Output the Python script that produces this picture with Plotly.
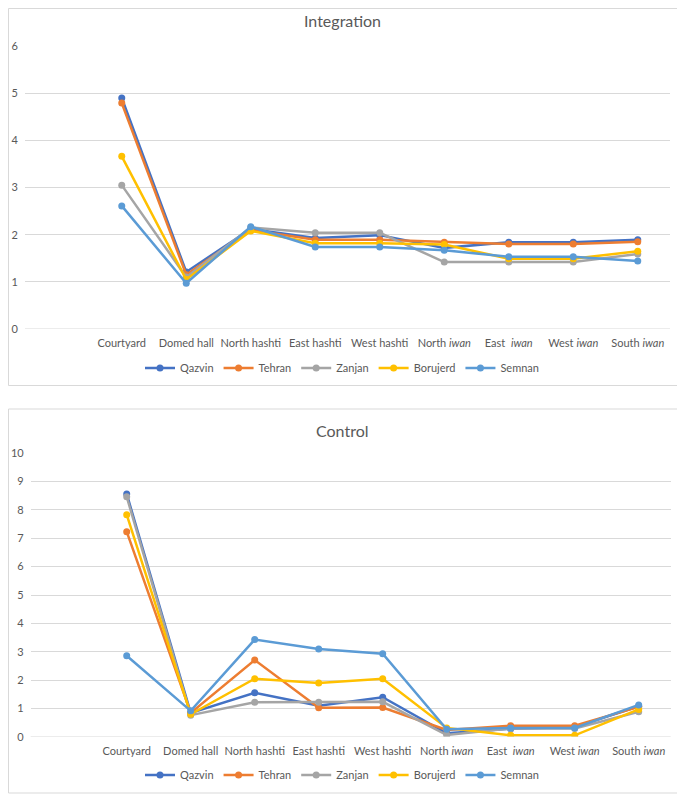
import plotly.graph_objects as go

categories = ["Courtyard", "Domed hall", "North hashti", "East hashti", "West hashti",
              "North <i>iwan</i>", "East  <i>iwan</i>", "West <i>iwan</i>", "South <i>iwan</i>"]
cities = ["Qazvin", "Tehran", "Zanjan", "Borujerd", "Semnan"]

# Integration values
int_qazvin = [4.90, 1.21, 2.12, 1.93, 1.99, 1.72, 1.84, 1.84, 1.89]
int_tehran = [4.79, 1.15, 2.10, 1.89, 1.89, 1.84, 1.80, 1.80, 1.85]
int_zanjan = [3.05, 1.10, 2.15, 2.04, 2.04, 1.42, 1.42, 1.42, 1.59]
int_borujerd = [3.66, 1.05, 2.08, 1.82, 1.82, 1.79, 1.49, 1.49, 1.65]
int_semnan = [2.61, 0.97, 2.17, 1.74, 1.74, 1.67, 1.53, 1.53, 1.44]

# Control values
ctl_qazvin = [8.56, 0.85, 1.56, 1.10, 1.40, 0.13, 0.29, 0.35, 1.08]
ctl_tehran = [7.23, 0.85, 2.71, 1.03, 1.04, 0.25, 0.40, 0.40, 1.06]
ctl_zanjan = [8.46, 0.77, 1.22, 1.22, 1.24, 0.07, 0.30, 0.30, 0.89]
ctl_borujerd = [7.83, 0.80, 2.05, 1.90, 2.05, 0.32, 0.06, 0.06, 0.97]
ctl_semnan = [2.86, 0.92, 3.43, 3.10, 2.93, 0.27, 0.32, 0.32, 1.13]

int_ticks = [0, 1, 2, 3, 4, 5, 6]
ctl_ticks = [0, 1, 2, 3, 4, 5, 6, 7, 8, 9, 10]

colors = ["#4472C4", "#ED7D31", "#A5A5A5", "#FFC000", "#5B9BD5"]
integration = [int_qazvin, int_tehran, int_zanjan, int_borujerd, int_semnan]
control = [ctl_qazvin, ctl_tehran, ctl_zanjan, ctl_borujerd, ctl_semnan]

# the page body has an 8px margin; figure sized to fill the rest of the window
OFF = 8
W, H = 685 - OFF, 795 - OFF
FONT = "Lato"
GRAY = "#595959"
GRID = "#D9D9D9"
xs = list(range(len(categories)))


def px(sx):
    return max(sx - OFF, 0.5) / W


def py(sy):
    return 1 - max(sy - OFF, 0.5) / H


fig = go.Figure()
for name, vals, c in zip(cities, integration, colors):
    fig.add_trace(go.Scatter(x=xs, y=vals, name=name, mode="lines+markers",
                             line=dict(color=c, width=2.5), marker=dict(color=c, size=7),
                             xaxis="x", yaxis="y", legend="legend"))
for name, vals, c in zip(cities, control, colors):
    fig.add_trace(go.Scatter(x=xs, y=vals, name=name, mode="lines+markers",
                             line=dict(color=c, width=2.5), marker=dict(color=c, size=7),
                             xaxis="x2", yaxis="y2", legend="legend2"))


def xaxis(domain, anchor):
    return dict(domain=domain, anchor=anchor, range=[-1.5, 8.5], tickmode="array",
                tickvals=xs, ticktext=categories, showgrid=False, zeroline=False,
                showline=False, ticks="", tickfont=dict(family=FONT, size=11, color=GRAY),
                ticklabelstandoff=6, fixedrange=True, automargin=False)


def yaxis(domain, anchor, rng, ticks):
    return dict(domain=domain, anchor=anchor, range=rng, tickmode="array", tickvals=ticks,
                showgrid=True, gridcolor=GRID, gridwidth=1, zeroline=False, showline=False,
                ticks="", tickfont=dict(family=FONT, size=11, color=GRAY),
                ticklabelstandoff=6, fixedrange=True, automargin=False)


legend_common = dict(orientation="h", xanchor="center", yanchor="middle",
                     font=dict(family=FONT, size=11, color=GRAY), bgcolor="rgba(0,0,0,0)",
                     itemwidth=30, tracegroupgap=0)

fig.update_layout(
    template="none",
    width=W, height=H, margin=dict(l=0, r=0, t=0, b=0, pad=0, autoexpand=False),
    paper_bgcolor="white", plot_bgcolor="white",
    xaxis=xaxis([px(25), px(670)], "y"),
    yaxis=yaxis([py(329), py(46)], "x", [0, 6], int_ticks),
    xaxis2=xaxis([px(30.7), px(670.7)], "y2"),
    yaxis2=yaxis([py(737), py(453)], "x2", [0, 10], ctl_ticks),
    legend=dict(x=px(342), y=py(368), **legend_common),
    legend2=dict(x=px(342), y=py(775), **legend_common),
    annotations=[
        dict(text="Integration", x=px(342.5), y=py(20), xref="paper", yref="paper",
             yanchor="middle", showarrow=False, font=dict(family=FONT, size=16, color=GRAY)),
        dict(text="Control", x=px(342.5), y=py(430), xref="paper", yref="paper",
             yanchor="middle", showarrow=False, font=dict(family=FONT, size=16, color=GRAY)),
    ],
    shapes=[
        dict(type="rect", xref="paper", yref="paper", x0=px(1.5), x1=px(683.5),
             y0=py(385.5), y1=py(1.5), line=dict(color=GRID, width=1)),
        dict(type="rect", xref="paper", yref="paper", x0=px(1.5), x1=px(683.5),
             y0=py(793), y1=py(409), line=dict(color=GRID, width=1)),
        dict(type="line", xref="paper", yref="y", x0=px(25), x1=px(670), y0=0, y1=0,
             line=dict(color=GRID, width=1)),
        dict(type="line", xref="paper", yref="y2", x0=px(30.7), x1=px(670.7), y0=0, y1=0,
             line=dict(color=GRID, width=1)),
    ],
    showlegend=True,
)

fig.write_html("out.html")
